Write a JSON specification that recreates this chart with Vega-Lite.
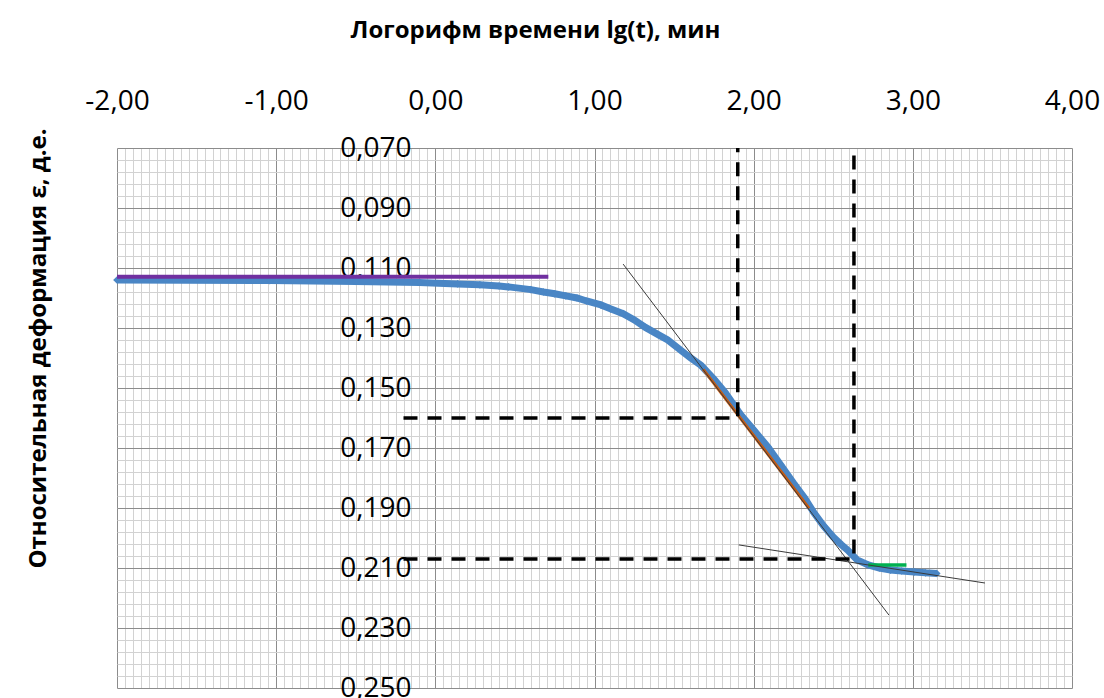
{
  "$schema": "https://vega.github.io/schema/vega-lite/v6.json",
  "autosize": "none",
  "padding": {"left": 117, "top": 148, "right": 32, "bottom": 10},
  "width": 955,
  "height": 540,
  "background": "white",
  "config": {
    "view": {"stroke": null},
    "locale": {"number": {"decimal": ",", "thousands": " ", "grouping": [3], "currency": ["", ""], "minus": "-"}},
    "axis": {"labelFont": "Open Sans", "titleFont": "Open Sans", "labelColor": "#000000", "titleColor": "#000000", "labelFlush": false}
  },
  "datasets": {
    "curve": [
      {"x": -2.0, "y": 0.1140}, {"x": -1.04, "y": 0.1142}, {"x": -0.5, "y": 0.1145}, {"x": -0.1, "y": 0.1148},
      {"x": 0.14, "y": 0.1153}, {"x": 0.28, "y": 0.1156}, {"x": 0.40, "y": 0.1160}, {"x": 0.46, "y": 0.1163},
      {"x": 0.60, "y": 0.1172}, {"x": 0.68, "y": 0.1180}, {"x": 0.75, "y": 0.1186}, {"x": 0.82, "y": 0.1193},
      {"x": 0.89, "y": 0.1200}, {"x": 0.95, "y": 0.1210}, {"x": 1.04, "y": 0.1223}, {"x": 1.10, "y": 0.1236},
      {"x": 1.18, "y": 0.1252}, {"x": 1.25, "y": 0.1273}, {"x": 1.32, "y": 0.1298}, {"x": 1.40, "y": 0.1322},
      {"x": 1.46, "y": 0.1340}, {"x": 1.54, "y": 0.1373}, {"x": 1.60, "y": 0.1398}, {"x": 1.67, "y": 0.1425},
      {"x": 1.75, "y": 0.1470}, {"x": 1.82, "y": 0.1515}, {"x": 1.92, "y": 0.1590}, {"x": 2.00, "y": 0.1640},
      {"x": 2.09, "y": 0.1697}, {"x": 2.17, "y": 0.1757}, {"x": 2.25, "y": 0.1817}, {"x": 2.32, "y": 0.1867},
      {"x": 2.38, "y": 0.1917}, {"x": 2.44, "y": 0.1960}, {"x": 2.50, "y": 0.1997}, {"x": 2.55, "y": 0.2022},
      {"x": 2.59, "y": 0.2040}, {"x": 2.65, "y": 0.2073}, {"x": 2.72, "y": 0.2090}, {"x": 2.79, "y": 0.2100},
      {"x": 2.86, "y": 0.2107}, {"x": 2.93, "y": 0.2110}, {"x": 3.01, "y": 0.2113}, {"x": 3.08, "y": 0.2116},
      {"x": 3.15, "y": 0.2118}
    ],
    "lines": [
      {"s": "orange", "o": 1, "x": 1.683, "y": 0.1438}, {"s": "orange", "o": 2, "x": 2.348, "y": 0.1901},
      {"s": "green", "o": 1, "x": 2.72, "y": 0.2090}, {"s": "green", "o": 2, "x": 2.96, "y": 0.2090},
      {"s": "purple", "o": 1, "x": -2.0, "y": 0.1129}, {"s": "purple", "o": 2, "x": 0.71, "y": 0.1129},
      {"s": "tangent1", "o": 1, "x": 1.18, "y": 0.1087}, {"s": "tangent1", "o": 2, "x": 2.85, "y": 0.2257},
      {"s": "tangent2", "o": 1, "x": 1.906, "y": 0.2023}, {"s": "tangent2", "o": 2, "x": 3.453, "y": 0.2150},
      {"s": "dash1", "o": 1, "x": -0.2, "y": 0.160}, {"s": "dash1", "o": 2, "x": 1.9, "y": 0.160}, {"s": "dash1", "o": 3, "x": 1.9, "y": 0.070},
      {"s": "dash2", "o": 1, "x": -0.2, "y": 0.207}, {"s": "dash2", "o": 2, "x": 2.63, "y": 0.207}, {"s": "dash2", "o": 3, "x": 2.63, "y": 0.070}
    ]
  },
  "resolve": {"axis": {"x": "independent", "y": "independent"}},
  "layer": [
    {
      "data": {"name": "curve"},
      "mark": {"type": "line", "color": "#4a86c5", "strokeWidth": 7, "point": {"shape": "diamond", "size": 60, "filled": true, "color": "#4a86c5"}},
      "encoding": {
        "x": {"field": "x", "type": "quantitative", "scale": {"domain": [-2, 4], "nice": false, "zero": false},
          "axis": {"orient": "top", "grid": true, "gridColor": "#d2d2d2", "gridWidth": 1, "labels": false, "ticks": false, "domain": false, "title": null,
            "values": [-2,-1.95,-1.9,-1.85,-1.8,-1.75,-1.7,-1.65,-1.6,-1.55,-1.5,-1.45,-1.4,-1.35,-1.3,-1.25,-1.2,-1.15,-1.1,-1.05,-1,-0.95,-0.9,-0.85,-0.8,-0.75,-0.7,-0.65,-0.6,-0.55,-0.5,-0.45,-0.4,-0.35,-0.3,-0.25,-0.2,-0.15,-0.1,-0.05,0,0.05,0.1,0.15,0.2,0.25,0.3,0.35,0.4,0.45,0.5,0.55,0.6,0.65,0.7,0.75,0.8,0.85,0.9,0.95,1,1.05,1.1,1.15,1.2,1.25,1.3,1.35,1.4,1.45,1.5,1.55,1.6,1.65,1.7,1.75,1.8,1.85,1.9,1.95,2,2.05,2.1,2.15,2.2,2.25,2.3,2.35,2.4,2.45,2.5,2.55,2.6,2.65,2.7,2.75,2.8,2.85,2.9,2.95,3,3.05,3.1,3.15,3.2,3.25,3.3,3.35,3.4,3.45,3.5,3.55,3.6,3.65,3.7,3.75,3.8,3.85,3.9,3.95,4]}},
        "y": {"field": "y", "type": "quantitative", "scale": {"domain": [0.07, 0.25], "reverse": true, "nice": false, "zero": false},
          "axis": {"orient": "left", "grid": true, "gridColor": "#d2d2d2", "gridWidth": 1, "labels": false, "ticks": false, "domain": false, "title": null,
            "values": [0.07,0.074,0.078,0.082,0.086,0.09,0.094,0.098,0.102,0.106,0.11,0.114,0.118,0.122,0.126,0.13,0.134,0.138,0.142,0.146,0.15,0.154,0.158,0.162,0.166,0.17,0.174,0.178,0.182,0.186,0.19,0.194,0.198,0.202,0.206,0.21,0.214,0.218,0.222,0.226,0.23,0.234,0.238,0.242,0.246,0.25]}}
      }
    },
    {
      "data": {"name": "lines"},
      "transform": [{"filter": "datum.s === 'purple'"}],
      "mark": {"type": "line", "color": "#7030a0", "strokeWidth": 4},
      "encoding": {
        "x": {"field": "x", "type": "quantitative",
          "axis": {"orient": "top", "grid": true, "gridColor": "#8c8c8c", "gridWidth": 1, "labels": false, "ticks": false, "domain": false, "title": null,
            "values": [-2, -1, 0, 1, 2, 3, 4]}},
        "y": {"field": "y", "type": "quantitative",
          "axis": {"orient": "left", "grid": true, "gridColor": "#8c8c8c", "gridWidth": 1, "labels": false, "ticks": false, "domain": false, "title": null,
            "values": [0.07, 0.09, 0.11, 0.13, 0.15, 0.17, 0.19, 0.21, 0.23, 0.25]}}
      }
    },
    {
      "data": {"name": "lines"},
      "transform": [{"filter": "datum.s === 'orange'"}],
      "mark": {"type": "line", "color": "#c55a11", "strokeWidth": 3},
      "encoding": {
        "x": {"field": "x", "type": "quantitative", "axis": null},
        "y": {"field": "y", "type": "quantitative", "axis": null}
      }
    },
    {
      "data": {"name": "lines"},
      "transform": [{"filter": "datum.s === 'green'"}],
      "mark": {"type": "line", "color": "#00b050", "strokeWidth": 3.5},
      "encoding": {
        "x": {"field": "x", "type": "quantitative", "axis": null},
        "y": {"field": "y", "type": "quantitative", "axis": null}
      }
    },
    {
      "data": {"name": "lines"},
      "transform": [{"filter": "datum.s === 'tangent1' || datum.s === 'tangent2'"}],
      "mark": {"type": "line", "color": "#3a3a3a", "strokeWidth": 1},
      "encoding": {
        "x": {"field": "x", "type": "quantitative", "axis": null},
        "y": {"field": "y", "type": "quantitative", "axis": null},
        "detail": {"field": "s"}
      }
    },
    {
      "data": {"name": "lines"},
      "transform": [{"filter": "datum.s === 'dash1' || datum.s === 'dash2'"}],
      "mark": {"type": "line", "color": "#000000", "strokeWidth": 3.5, "strokeDash": [14, 10]},
      "encoding": {
        "x": {"field": "x", "type": "quantitative", "axis": null},
        "y": {"field": "y", "type": "quantitative", "axis": null},
        "detail": {"field": "s"},
        "order": {"field": "o", "type": "quantitative"}
      }
    },
    {
      "data": {"name": "curve"},
      "mark": {"type": "point", "opacity": 0},
      "encoding": {
        "x": {"field": "x", "type": "quantitative",
          "axis": {"orient": "top", "grid": false, "ticks": false, "domain": false, "labelPadding": 33, "labelFontSize": 28, "format": ".2f",
            "values": [-2, -1, 0, 1, 2, 3, 4],
            "title": "Логорифм времени lg(t), мин", "titleFontSize": 24, "titleFontWeight": "bold", "titleX": 418, "titleY": -118, "titleBaseline": "middle", "titleAnchor": "middle"}},
        "y": {"field": "y", "type": "quantitative",
          "axis": {"orient": "left", "offset": -318, "grid": false, "ticks": false, "domain": false, "labelPadding": 24, "labelFontSize": 28, "format": ".3f", "labelBaseline": "middle",
            "values": [0.07, 0.09, 0.11, 0.13, 0.15, 0.17, 0.19, 0.21, 0.23, 0.25],
            "title": "Относительная деформация ε, д.е.", "titleFontSize": 24, "titleFontWeight": "bold", "titleX": -397, "titleY": 200, "titleAngle": -90, "titleBaseline": "middle", "titleAlign": "center"}}
      }
    }
  ]
}
